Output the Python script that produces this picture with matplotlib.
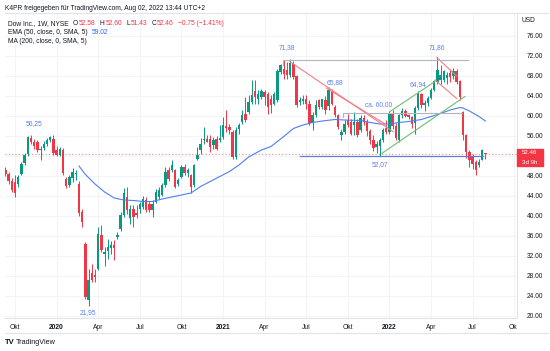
import matplotlib
matplotlib.use('Agg')
import matplotlib.pyplot as plt
import matplotlib.transforms as mtrans
from matplotlib.patches import Rectangle
from matplotlib.offsetbox import TextArea, HPacker, DrawingArea, AnnotationBbox
import numpy as np
import pandas as pd

plt.rcParams['font.family'] = ['Liberation Sans', 'DejaVu Sans']

# weekly bars, Dow Inc. (NYSE), week 0 = 2019-09-16
weeks = pd.date_range('2019-09-16', '2022-08-01', freq='W-MON')

opens = [
    49.3, 48.4, 47.0, 46.9, 46.4, 48.5, 50.6, 52.4, 55.6, 54.9,
    54.7, 53.3, 53.6, 54.5, 55.3, 55.5, 53.2, 52.3, 53.2, 47.4,
    46.2, 47.6, 48.4, 46.5, 40.8, 34.5, 23.3, 28.6, 28.2, 29.5,
    36.2, 32.4, 33.0, 33.6, 34.2, 35.8, 37.4, 40.3, 43.9, 39.6,
    41.5, 40.6, 41.5, 41.9, 43.2, 42.5, 41.2, 42.9, 43.9, 44.2,
    46.2, 49.2, 49.2, 49.2, 46.5, 47.9, 49.9, 48.6, 48.2, 46.2,
    51.5, 53.2, 55.2, 55.5, 55.5, 54.2, 55.5, 55.2, 55.9, 58.0,
    57.9, 56.9, 51.9, 57.5, 58.9, 60.5, 60.9, 62.9, 64.9, 63.5,
    63.9, 64.7, 64.5, 63.5, 62.5, 63.2, 68.9, 69.5, 69.2, 68.3,
    70.5, 67.9, 62.9, 63.0, 63.5, 62.5, 58.6, 60.2, 63.2, 61.9,
    63.2, 62.0, 64.9, 61.9, 60.2, 56.2, 56.9, 59.2, 58.9, 58.2,
    58.9, 57.2, 59.6, 58.9, 57.0, 55.3, 53.8, 54.0, 55.2, 57.6,
    56.9, 60.5, 58.0, 55.2, 60.2, 61.0, 60.2, 59.8, 58.6, 61.7,
    64.4, 62.2, 62.6, 63.7, 65.3, 66.9, 67.2, 67.2, 67.6, 68.6,
    68.0, 69.0, 66.9, 60.8, 56.3, 52.9, 51.9, 50.9, 50.2, 51.2,
    52.58,
]
highs = [
    49.8, 48.9, 47.6, 48.2, 48.3, 50.8, 52.6, 56.0, 56.25, 55.5,
    55.2, 54.0, 55.0, 55.6, 56.0, 56.2, 54.0, 53.8, 53.7, 47.8,
    48.2, 49.6, 49.3, 47.0, 41.4, 34.9, 29.5, 30.5, 29.5, 37.9,
    38.2, 33.9, 35.5, 35.0, 35.2, 36.9, 40.8, 45.6, 45.9, 42.2,
    42.2, 42.3, 42.9, 44.0, 43.8, 43.0, 43.2, 45.5, 45.8, 46.6,
    49.9, 49.8, 51.2, 49.5, 47.6, 50.2, 50.5, 49.7, 48.5, 50.5,
    53.9, 55.6, 57.8, 56.2, 56.2, 55.8, 56.0, 58.2, 59.9, 61.2,
    58.5, 57.2, 57.9, 58.6, 61.2, 63.9, 64.2, 67.2, 67.2, 65.2,
    65.5, 65.2, 64.9, 64.3, 64.9, 69.5, 70.5, 71.2, 70.9, 71.38,
    71.0, 68.2, 63.9, 64.2, 64.2, 63.2, 60.9, 63.2, 63.5, 63.5,
    64.0, 65.88, 65.5, 62.2, 60.5, 57.5, 59.2, 60.5, 59.5, 60.9,
    59.5, 60.2, 60.3, 59.4, 57.4, 56.2, 55.0, 55.6, 57.6, 59.2,
    61.0, 61.2, 58.6, 60.5, 61.6, 61.4, 60.5, 60.1, 62.0, 64.94,
    64.7, 63.3, 64.0, 65.6, 67.3, 71.86, 70.2, 69.2, 68.8, 69.5,
    69.6, 69.4, 67.3, 61.0, 56.5, 53.2, 52.5, 51.2, 51.5, 53.5,
    52.60,
]
lows = [
    48.0, 46.4, 44.8, 43.9, 45.9, 48.2, 50.3, 52.1, 54.5, 53.4,
    52.8, 51.2, 53.2, 54.0, 54.8, 52.2, 52.0, 52.0, 48.2, 45.6,
    45.8, 46.8, 47.3, 40.0, 37.8, 23.5, 21.95, 26.8, 26.9, 29.2,
    32.9, 30.0, 31.5, 32.5, 31.2, 35.4, 37.0, 39.8, 40.5, 38.5,
    37.9, 39.6, 40.6, 41.5, 40.8, 40.8, 39.9, 42.6, 43.5, 44.0,
    45.9, 47.0, 48.8, 45.6, 46.0, 47.6, 48.2, 47.8, 44.6, 45.9,
    51.2, 52.5, 54.5, 54.8, 52.9, 53.5, 53.2, 54.9, 55.5, 56.9,
    56.5, 51.5, 51.5, 56.5, 58.5, 58.9, 60.5, 62.5, 62.5, 62.5,
    63.5, 62.2, 60.5, 60.6, 62.2, 62.9, 68.5, 67.5, 67.5, 67.8,
    67.5, 61.9, 62.2, 62.5, 61.5, 58.2, 57.2, 59.8, 61.5, 61.5,
    60.5, 61.2, 62.2, 59.9, 57.5, 55.2, 56.5, 57.9, 56.2, 56.2,
    55.9, 56.9, 58.2, 56.0, 54.5, 53.0, 52.6, 52.07, 54.8, 56.4,
    56.5, 57.5, 55.2, 54.9, 59.6, 59.8, 59.4, 57.6, 56.5, 61.2,
    61.6, 61.0, 62.0, 63.4, 65.0, 66.4, 66.5, 66.8, 66.4, 66.8,
    67.5, 66.5, 63.2, 55.2, 51.6, 49.9, 49.5, 48.2, 49.9, 51.2,
    51.43,
]
closes = [
    48.4, 47.0, 45.3, 44.6, 47.8, 50.5, 52.2, 55.9, 54.9, 54.0,
    53.3, 53.5, 54.5, 55.3, 55.8, 52.6, 52.3, 53.5, 48.6, 46.0,
    47.9, 48.9, 48.6, 40.6, 38.9, 23.9, 27.2, 27.2, 27.8, 36.5,
    33.2, 32.9, 33.9, 34.2, 33.6, 36.3, 40.3, 44.6, 41.2, 41.5,
    39.9, 40.2, 42.5, 43.5, 41.2, 41.3, 42.5, 44.9, 45.2, 46.2,
    48.9, 47.5, 50.2, 45.9, 47.2, 49.9, 48.6, 49.2, 45.9, 50.2,
    52.2, 54.5, 55.5, 54.9, 53.9, 55.2, 53.5, 55.7, 58.2, 57.6,
    57.2, 51.9, 57.2, 58.2, 60.2, 59.2, 62.9, 64.2, 63.9, 64.5,
    64.9, 63.9, 61.9, 62.2, 64.5, 68.9, 70.2, 68.5, 68.2, 70.5,
    67.9, 62.2, 63.2, 63.5, 62.5, 58.6, 60.2, 62.2, 61.9, 63.5,
    61.2, 65.3, 62.4, 60.2, 57.9, 56.9, 58.5, 58.2, 56.5, 58.9,
    56.2, 59.6, 58.9, 57.0, 55.3, 53.6, 54.4, 55.2, 57.2, 56.8,
    60.5, 58.0, 55.6, 60.2, 61.0, 60.0, 59.8, 58.4, 61.6, 64.4,
    62.2, 62.6, 63.7, 65.3, 66.9, 69.2, 68.2, 69.0, 68.2, 67.9,
    69.0, 66.9, 63.9, 56.3, 52.9, 51.2, 50.5, 49.2, 50.9, 53.21,
    52.46,
]

# EMA(50) (week number, value)
ema_weeks = [23, 25, 28, 31, 34, 37, 40, 43, 46, 49, 55, 58, 61, 64, 67, 70,
             73, 76, 80, 83, 85, 87, 90, 93, 96, 99, 103, 106, 111, 114, 117,
             120, 123, 126, 130, 133, 136, 139, 142, 143, 145, 148, 150]
ema_values = [50.0, 48.3, 46.4, 44.8, 43.6, 43.2, 43.1, 42.9, 42.9, 43.4, 44.2,
              44.6, 45.9, 46.9, 47.9, 48.9, 50.2, 51.8, 53.2, 53.9, 54.9, 55.9,
              57.5, 58.2, 58.7, 59.0, 59.3, 59.2, 59.1, 58.7, 58.4, 58.4, 58.7,
              58.9, 59.3, 59.9, 60.5, 61.2, 61.7, 61.6, 61.0, 59.9, 59.0]

# drawings: (week0, value0, week1, value1)
red_lines = [(88.9, 70.86, 121.2, 56.86), (100.4, 65.54, 119.2, 58.2),
             (134.8, 71.7, 141.0, 68.0), (134.3, 67.2, 141.0, 63.5)]
green_lines = [(117.6, 52.5, 143.6, 63.9), (120.2, 60.9, 134.25, 66.9)]
gray_levels = [(86.75, 144.6, 71.3, 70.2), (105.5, 142.7, 60.6, 59.8)]
support_level = (92.0, 149.3, 52.07)
price_notes = [(9.1, 58.4, '56,25'), (25.8, 20.6, '21,95'), (88.0, 73.6, '71,38'),
               (103.0, 66.7, '65,88'), (116.75, 62.2, 'ca. 60,00'),
               (128.8, 66.2, '64,94'), (135.0, 73.7, '71,86'), (117.0, 50.3, '52,07')]
last_price = 52.46

price_ticks = list(range(20, 77, 4))
month_names = {4: 'Apr', 7: 'Jul', 10: 'Okt'}

UP, DOWN = '#089981', '#f23645'
TEXT = '#131722'
GRID = '#f0f3fa'
NOTE = '#5b80e6'
FS = 4.8

W, H = 550, 351
fig = plt.figure(figsize=(W / 100, H / 100), dpi=100)
ax = fig.add_axes([5 / W, 1 - 318 / H, 512 / W, 305 / H])

# candles
x = np.arange(len(weeks))
o, h, l, c = map(np.array, (opens, highs, lows, closes))
col = np.where(c >= o, UP, DOWN)
ax.vlines(x, l, h, colors=col, lw=0.7, zorder=3)
ax.bar(x, np.maximum(np.abs(c - o), 0.12), bottom=np.minimum(o, c), width=0.75,
       color=col, lw=0, zorder=4)

ax.plot(ema_weeks, ema_values, color='#4d7ef2', lw=0.8, zorder=5)

for x0, y0, x1, y1 in red_lines:
    ax.plot([x0, x1], [y0, y1], color='#f47c86', lw=0.8, zorder=6)
for x0, y0, x1, y1 in green_lines:
    ax.plot([x0, x1], [y0, y1], color='#6cbf6f', lw=0.8, zorder=6)
for x0, x1, lvl, foot in gray_levels:
    ax.plot([x0, x0, x1], [foot, lvl, lvl], color='#b2b5be', lw=0.8, zorder=6)
sx0, sx1, slvl = support_level
ax.plot([sx0, sx1], [slvl, slvl], color='#5b7fd9', lw=0.9, zorder=6)
ax.axhline(last_price, color=DOWN, lw=0.8, ls=(0, (1, 2)), alpha=0.6, zorder=2)

for nx, ny, s in price_notes:
    ax.text(nx, ny, s, color=NOTE, fontsize=FS, ha='center', va='center', zorder=7)

# axes
ax.set_xlim(-0.125, 159.875)
ax.set_ylim(19.6, 80.6)
ax.yaxis.tick_right()
ax.set_yticks(price_ticks)
ax.set_yticklabels([f'{v:.2f}' for v in price_ticks])
ax.tick_params(axis='y', length=0, pad=7, labelsize=FS, labelcolor=TEXT)

quarters = pd.date_range('2019-10-01', '2022-10-01', freq='QS')
tpos = [int(np.ceil((q - weeks[0]).days / 7)) for q in quarters]
tlab = [str(q.year) if q.month == 1 else month_names[q.month] for q in quarters]
ax.set_xticks(tpos)
ax.set_xticklabels(tlab)
ax.tick_params(axis='x', length=0, pad=4, labelsize=FS, labelcolor=TEXT)
clip = mtrans.TransformedBbox(mtrans.Bbox([[0, -0.2], [1, 1]]), ax.transAxes)
for t, q in zip(ax.get_xticklabels(), quarters):
    if q.month == 1:
        t.set_fontweight('bold')
    t.set_clip_box(clip)
    t.set_clip_on(True)

ax.grid(True, color=GRID, lw=0.6)
ax.set_axisbelow(True)
for s in ['top', 'left']:
    ax.spines[s].set_visible(False)
for s in ['right', 'bottom']:
    ax.spines[s].set_color('#e0e3eb')
    ax.spines[s].set_linewidth(0.8)

# last price tag on price scale
blend = mtrans.blended_transform_factory(ax.transAxes, ax.transData)
ax.add_patch(Rectangle((1.0, 50.0), 26 / 512, 3.4, transform=blend, color=DOWN,
                       clip_on=False, zorder=10))
ax.text(1 + 13 / 512, 52.75, '52.46', transform=blend, color='white', fontsize=4.4,
        ha='center', va='center', zorder=11)
ax.text(1 + 13 / 512, 50.75, '3d 9h', transform=blend, color='white', fontsize=4.4,
        ha='center', va='center', zorder=11)

# frame lines
fig.add_artist(plt.Line2D([5 / W, 548 / W], [1 - 13 / H, 1 - 13 / H], color='#e0e3eb', lw=0.8))
fig.add_artist(plt.Line2D([5 / W, 548 / W], [1 - 333 / H, 1 - 333 / H], color='#e0e3eb', lw=0.8))

# header and legend
fig.text(5 / W, 1 - 8.3 / H, 'K4PR freigegeben für TradingView.com, Aug 02, 2022 13:44 UTC+2',
         fontsize=FS, color=TEXT, va='center')
fig.text(522 / W, 1 - 20.7 / H, 'USD', fontsize=FS, color=TEXT, va='center')


def legend_row(y_px, groups):
    children = []
    for k, group in enumerate(groups):
        if k:
            children.append(DrawingArea(3.2, 1))
        children.append(HPacker(children=[TextArea(s, textprops=dict(color=cl, fontsize=FS))
                                          for s, cl in group], sep=0.4, pad=0, align='baseline'))
    box = HPacker(children=children, sep=0, pad=0, align='center')
    fig.add_artist(AnnotationBbox(box, (8 / W, 1 - y_px / H), xycoords='figure fraction',
                                  box_alignment=(0, 0.5), frameon=False, pad=0))


legend_row(23.3, [[('Dow Inc., 1W, NYSE', TEXT)], [('O', TEXT), ('52.58', DOWN)],
                  [('H', TEXT), ('52.60', DOWN)], [('L', TEXT), ('51.43', DOWN)],
                  [('C', TEXT), ('52.46', DOWN)], [('\u22120.75 (\u22121.41%)', DOWN)]])
legend_row(32.3, [[('EMA (50, close, 0, SMA, 5)', TEXT)], [('59.02', '#2962ff')]])
legend_row(41.3, [[('MA (200, close, 0, SMA, 5)', TEXT)]])

fig.text(5 / W, 1 - 342 / H, 'TV', fontsize=5.5, fontweight='heavy', color=TEXT, va='center')
fig.text(16 / W, 1 - 342 / H, 'TradingView', fontsize=5.2, color=TEXT, va='center')

fig.savefig('out.png', dpi=100)
